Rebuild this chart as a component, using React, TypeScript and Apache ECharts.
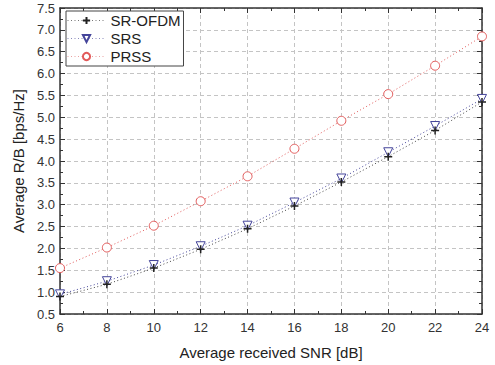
import React, { useEffect, useRef } from "react";
import * as echarts from "echarts";

const snr = [6, 8, 10, 12, 14, 16, 18, 20, 22, 24];
const srOfdm = [0.9, 1.18, 1.55, 1.98, 2.45, 2.97, 3.52, 4.1, 4.7, 5.35];
const srs = [0.95, 1.25, 1.62, 2.05, 2.52, 3.05, 3.6, 4.2, 4.8, 5.42];
const prss = [1.55, 2.02, 2.52, 3.08, 3.65, 4.28, 4.92, 5.53, 6.18, 6.85];

const FONT = "Liberation Sans, Arial, sans-serif";
const C_OFDM = "#222";
const C_SRS = "#44449a";
const C_PRSS = "#e25a5a";

function pairs(ys: number[]) {
  return snr.map((x, i) => [x, ys[i]]);
}

export default function App() {
  const ref = useRef<HTMLDivElement>(null);
  useEffect(() => {
    if (!ref.current) return;
    const chart = echarts.init(ref.current, undefined, { renderer: "svg" });
    const axisCommon = {
      axisLine: { show: true, lineStyle: { color: "#333", width: 1.5 } },
      axisTick: { show: true, inside: true, length: 5, lineStyle: { color: "#333" } },
      minorTick: { show: true, splitNumber: 2, length: 3, lineStyle: { color: "#333" } },
    };
    chart.setOption({
      animation: false,
      backgroundColor: "#fff",
      textStyle: { fontFamily: FONT },
      grid: { left: 60, right: 13, top: 8, bottom: 49 },
      legend: {
        orient: "vertical",
        left: 66,
        top: 11,
        backgroundColor: "#fff",
        borderColor: "#444",
        borderWidth: 1,
        borderRadius: 0,
        padding: [2, 3, 2, 1],
        itemWidth: 38,
        itemHeight: 9,
        itemGap: 3,
        textStyle: { fontFamily: FONT, fontSize: 15, color: "#222", padding: [0, 0, 0, 0] },
        data: [
          { name: "SR-OFDM", lineStyle: { color: "#777", width: 1, type: [1, 2.5] } },
          { name: "SRS", lineStyle: { color: "#8888bb", width: 1, type: [1, 2.5] } },
          { name: "PRSS", lineStyle: { color: "#e9a0a0", width: 1, type: [1, 2.5] } },
        ],
      },
      xAxis: [
        {
          type: "value",
          min: 6,
          max: 24,
          interval: 2,
          name: "Average received SNR [dB]",
          nameLocation: "middle",
          nameGap: 31,
          nameTextStyle: { fontFamily: FONT, fontSize: 15, color: "#222" },
          axisLabel: { fontFamily: FONT, fontSize: 13, color: "#333", margin: 7 },
          splitLine: { show: true, lineStyle: { color: "#c4c4c4", type: [4, 3] } },
          ...axisCommon,
        },
        {
          type: "value",
          position: "top",
          min: 6,
          max: 24,
          interval: 2,
          axisLabel: { show: false },
          splitLine: { show: false },
          ...axisCommon,
        },
      ],
      yAxis: [
        {
          type: "value",
          min: 0.5,
          max: 7.5,
          interval: 0.5,
          name: "Average R/B [bps/Hz]",
          nameLocation: "middle",
          nameGap: 34,
          nameTextStyle: { fontFamily: FONT, fontSize: 15, color: "#222" },
          axisLabel: {
            fontFamily: FONT,
            fontSize: 13,
            color: "#333",
            margin: 5,
            formatter: (v: number) => v.toFixed(1),
          },
          splitLine: { show: true, lineStyle: { color: "#c4c4c4", type: [4, 3] } },
          ...axisCommon,
        },
        {
          type: "value",
          position: "right",
          min: 0.5,
          max: 7.5,
          interval: 0.5,
          axisLabel: { show: false },
          splitLine: { show: false },
          ...axisCommon,
        },
      ],
      series: [
        {
          name: "SR-OFDM",
          type: "line",
          data: pairs(srOfdm),
          symbol: "path://M5,0L5,10M0,5L10,5",
          symbolSize: 8,
          showAllSymbol: true,
          lineStyle: { color: "#444", width: 1, type: [1, 2.5] },
          itemStyle: { color: "none", borderColor: C_OFDM, borderWidth: 1.5 },
          z: 3,
        },
        {
          name: "SRS",
          type: "line",
          data: pairs(srs),
          symbol: "triangle",
          symbolRotate: 180,
          symbolSize: 9,
          showAllSymbol: true,
          lineStyle: { color: C_SRS, width: 1, type: [1, 2.5] },
          itemStyle: { color: "#fff", borderColor: C_SRS, borderWidth: 1 },
          z: 2,
        },
        {
          name: "PRSS",
          type: "line",
          data: pairs(prss),
          symbol: "circle",
          symbolSize: 9,
          showAllSymbol: true,
          lineStyle: { color: C_PRSS, width: 1, type: [1, 2.5] },
          itemStyle: { color: "#fff", borderColor: C_PRSS, borderWidth: 1 },
          z: 2,
        },
      ],
    });
    return () => chart.dispose();
  }, []);
  return <div ref={ref} style={{ width: 495, height: 365, position: "absolute", left: 0, top: 0 }} />;
}
